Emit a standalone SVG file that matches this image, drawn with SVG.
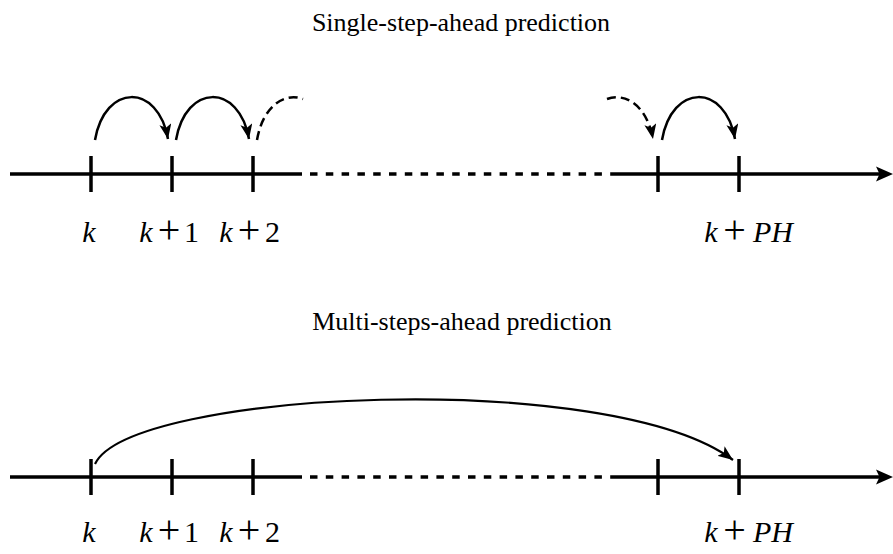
<svg xmlns="http://www.w3.org/2000/svg" width="893" height="554" viewBox="0 0 893 554">
<style>
.ax{stroke:#000;stroke-width:3.5;fill:none}
.dash{stroke:#000;stroke-width:3.5;fill:none;stroke-dasharray:7.5 8.3}
.tick{stroke:#000;stroke-width:3.5}
.arc{stroke:#000;stroke-width:2.5;fill:none}
.arcd{stroke:#000;stroke-width:2.5;fill:none;stroke-dasharray:9 5}
.title{font-family:"Liberation Serif","Times New Roman",serif;font-size:26px;fill:#000;text-anchor:middle}
.lab{font-family:"Liberation Serif","Times New Roman",serif;font-size:30px;fill:#000;text-anchor:middle}
.pl{font-size:40px}
.it{font-style:italic}
</style>
<defs>
<marker id="ah" markerUnits="userSpaceOnUse" viewBox="0 0 15 12" refX="15" refY="6" markerWidth="15" markerHeight="12" orient="auto">
<path d="M0,0 L15,6 L0,12 L3.5,6 z" fill="#000"/>
</marker>
</defs>
<g id="titles">
<text class="title" x="461" y="31">Single-step-ahead prediction</text>
<text class="title" x="462" y="330">Multi-steps-ahead prediction</text>
</g>
<g id="axis-top">
<path class="ax" d="M10,174 H302"/>
<path class="dash" d="M310,174 H613"/>
<path class="ax" d="M613,174 H882"/>
<path d="M876,166.5 L893,174 L876,181.5 L879.5,174 z" fill="#000"/>
<line class="tick" x1="91" y1="156" x2="91" y2="192"/>
<line class="tick" x1="172" y1="156" x2="172" y2="192"/>
<line class="tick" x1="253" y1="156" x2="253" y2="192"/>
<line class="tick" x1="658" y1="156" x2="658" y2="192"/>
<line class="tick" x1="739" y1="156" x2="739" y2="192"/>
</g>
<g id="axis-bottom">
<path class="ax" d="M10,477 H302"/>
<path class="dash" d="M310,477 H613"/>
<path class="ax" d="M613,477 H882"/>
<path d="M876,469.5 L893,477 L876,484.5 L879.5,477 z" fill="#000"/>
<line class="tick" x1="91" y1="459" x2="91" y2="495"/>
<line class="tick" x1="172" y1="459" x2="172" y2="495"/>
<line class="tick" x1="253" y1="459" x2="253" y2="495"/>
<line class="tick" x1="658" y1="459" x2="658" y2="495"/>
<line class="tick" x1="739" y1="459" x2="739" y2="495"/>
</g>
<g id="connectors">
<path class="arc" d="M95,140 C105,83 158,83 168,139" marker-end="url(#ah)"/>
<path class="arc" d="M176,140 C186,83 239,83 249,139" marker-end="url(#ah)"/>
<path class="arcd" d="M257,140 C263,105.8 284.5,92.1 303,99"/>
<path class="arcd" d="M607,99 C625.5,92.1 647,105.8 653,139" marker-end="url(#ah)"/>
<path class="arc" d="M662,140 C672,83 725,83 735,139" marker-end="url(#ah)"/>
<path class="arc" style="stroke-width:2.2" d="M95,464 C130,390 610,368 733,460" marker-end="url(#ah)"/>
</g>
<g id="labels-top">
<text class="lab it" x="89" y="242">k</text>
<text class="lab it" x="146" y="242">k</text>
<text class="lab pl" x="169" y="243">+</text>
<text class="lab" x="191.5" y="242">1</text>
<text class="lab it" x="226" y="242">k</text>
<text class="lab pl" x="249" y="243">+</text>
<text class="lab" x="272.5" y="242">2</text>
<text class="lab it" x="711" y="242">k</text>
<text class="lab pl" x="734.5" y="243">+</text>
<text class="lab it" x="773" y="242">PH</text>
</g>
<g id="labels-bottom">
<text class="lab it" x="89" y="542">k</text>
<text class="lab it" x="146" y="542">k</text>
<text class="lab pl" x="169" y="543">+</text>
<text class="lab" x="191.5" y="542">1</text>
<text class="lab it" x="226" y="542">k</text>
<text class="lab pl" x="249" y="543">+</text>
<text class="lab" x="272.5" y="542">2</text>
<text class="lab it" x="711" y="542">k</text>
<text class="lab pl" x="734.5" y="543">+</text>
<text class="lab it" x="773" y="542">PH</text>
</g>
</svg>
